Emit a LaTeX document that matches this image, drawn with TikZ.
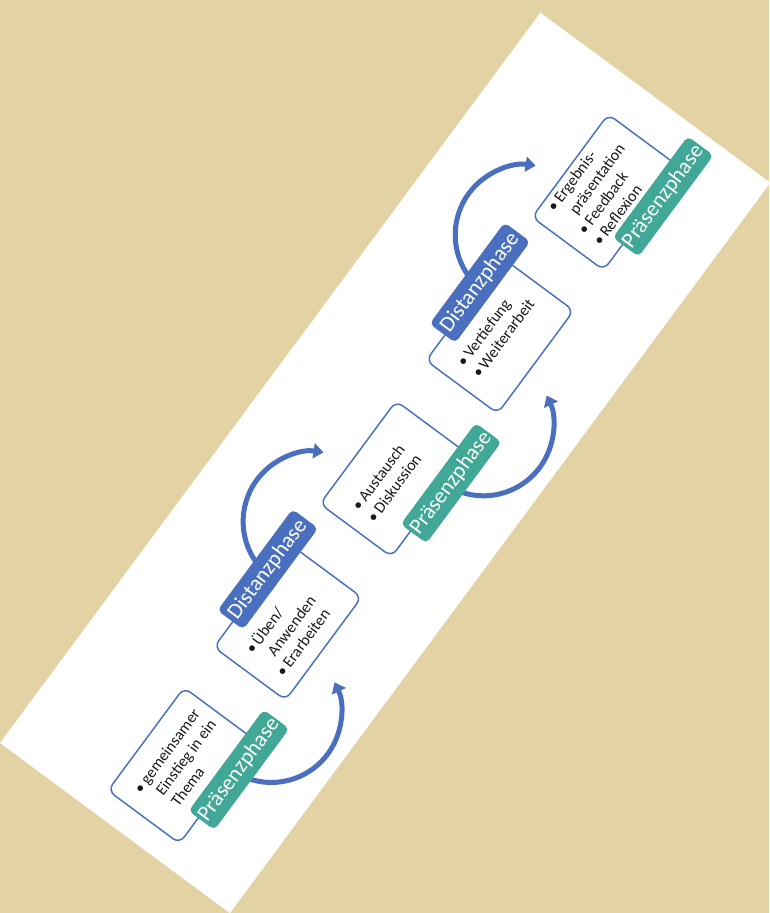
\documentclass[tikz,border=0pt]{standalone}
\usepackage{fontspec}
\setmainfont{Carlito}
\usetikzlibrary{arrows.meta}
\definecolor{bgbeige}{HTML}{E3D2A3}
\definecolor{pteal}{HTML}{41A796}
\definecolor{dblue}{HTML}{4A6FBF}
\definecolor{bblue}{HTML}{4A72C4}
\definecolor{txtc}{HTML}{1A1A1A}
\newcommand{\bul}{\makebox[6pt]{\textbullet}}
\tikzset{
  phasebox/.style={draw=bblue, line width=1.5pt, fill=white, rounded corners=8pt,
    minimum width=128pt, minimum height=89pt, inner sep=0pt},
  praes/.style={fill=pteal, text=white, rounded corners=5pt, minimum width=126pt,
    minimum height=32pt, inner sep=0pt, font=\fontsize{22}{26}\selectfont},
  dist/.style={praes, fill=dblue},
  flow/.style={draw=dblue, line width=5pt, -{Triangle[width=15pt,length=10pt]}},
  txt/.style={anchor=north west, inner sep=0pt, text=txtc,
    font=\fontsize{16}{19}\selectfont}
}
\begin{document}
\begin{tikzpicture}[x=1pt,y=1pt]
\useasboundingbox (0,0) rectangle (769,913);
\clip (0,0) rectangle (769,913);
\fill[bgbeige] (0,0) rectangle (769,913);
\begin{scope}[shift={(0,170)}, rotate=53.5, transform shape]
  \fill[white] (0,0) rectangle (908.6,-286);
  % boxes
  \node[phasebox] (b1) at (90,-159.5) {};
  \node[phasebox] (b2) at (268.3,-159.5) {};
  \node[phasebox] (b3) at (446.6,-159.5) {};
  \node[phasebox] (b4) at (624.9,-159.5) {};
  \node[phasebox] (b5) at (803.2,-159.5) {};
  % arc centres
  \coordinate (c1) at (186,-200);
  \coordinate (c2) at (364.3,-120);
  \coordinate (c3) at (542.6,-200);
  \coordinate (c4) at (720.9,-120);
  % arrows
  \draw[flow] ([shift={(190:70)}]c1) arc[start angle=190, end angle=332, radius=70];
  \draw[flow] ([shift={(170:70)}]c2) arc[start angle=170, end angle=28, radius=70];
  \draw[flow] ([shift={(190:70)}]c3) arc[start angle=190, end angle=332, radius=70];
  \draw[flow] ([shift={(170:70)}]c4) arc[start angle=170, end angle=28, radius=70];
  % labels
  \node[praes] (l1) at (120.6,-208) {Präsenzphase};
  \node[dist]  (l2) at (298.9,-112) {Distanzphase};
  \node[praes] (l3) at (477.2,-208) {Präsenzphase};
  \node[dist]  (l4) at (655.5,-112) {Distanzphase};
  \node[praes] (l5) at (833.8,-208) {Präsenzphase};
  % texts
  \node[txt] (t1) at (44,-130.7) {\begin{tabular}{@{}l@{\hspace{4pt}}l@{}}\bul & gemeinsamer\\ & Einstieg in ein\\ & Thema\end{tabular}};
  \node[txt] (t2) at (222.3,-137.7) {\begin{tabular}{@{}l@{\hspace{4pt}}l@{}}\bul & Üben/\\ & Anwenden\\ \bul & Erarbeiten\end{tabular}};
  \node[txt] (t3) at (400.6,-138.1) {\begin{tabular}{@{}l@{\hspace{4pt}}l@{}}\bul & Austausch\\ \bul & Diskussion\end{tabular}};
  \node[txt] (t4) at (578.9,-136.7) {\begin{tabular}{@{}l@{\hspace{4pt}}l@{}}\bul & Vertiefung\\ \bul & Weiterarbeit\end{tabular}};
  \node[txt] (t5) at (757.2,-117.2) {\begin{tabular}{@{}l@{\hspace{4pt}}l@{}}\bul & Ergebnis-\\ & präsentation\\ \bul & Feedback\\ \bul & Reflexion\end{tabular}};
\end{scope}
\end{tikzpicture}
\end{document}
